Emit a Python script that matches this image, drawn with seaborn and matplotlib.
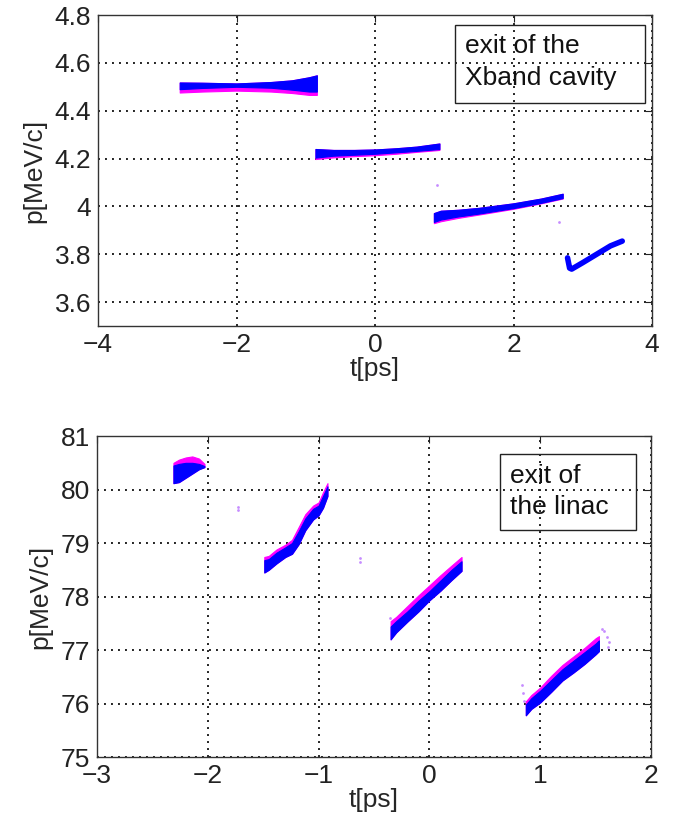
import matplotlib
matplotlib.use("Agg")
import matplotlib.pyplot as plt
import seaborn as sns
from matplotlib.patches import Rectangle

# ---- top panel: exit of the Xband cavity (magenta lies under the blue) ----
top_b1_t = [-2.82, -2.5, -2.0, -1.5, -1.2, -0.95, -0.84]
top_b1_lo = [4.490, 4.495, 4.500, 4.496, 4.488, 4.480, 4.480]
top_b1_hi = [4.518, 4.517, 4.514, 4.520, 4.527, 4.540, 4.548]
top_b1_mag = [4.476, 4.480, 4.484, 4.480, 4.474, 4.466, 4.466]

top_b2_t = [-0.86, -0.6, -0.3, 0.0, 0.3, 0.6, 0.93]
top_b2_lo = [4.204, 4.212, 4.216, 4.220, 4.226, 4.232, 4.240]
top_b2_hi = [4.240, 4.236, 4.236, 4.238, 4.243, 4.250, 4.263]
top_b2_mag = [4.198, 4.205, 4.210, 4.214, 4.220, 4.228, 4.236]

top_b3_t = [0.85, 0.95, 1.2, 1.5, 2.0, 2.4, 2.71]
top_b3_lo = [3.935, 3.945, 3.958, 3.970, 3.993, 4.015, 4.035]
top_b3_hi = [3.972, 3.982, 3.986, 3.994, 4.013, 4.033, 4.053]
top_b3_mag = [3.930, 3.938, 3.952, 3.966, 3.990, 4.013, 4.033]

top_b4_t = [2.78, 2.81, 2.84, 3.0, 3.2, 3.4, 3.57]
top_b4_p = [3.785, 3.742, 3.738, 3.765, 3.800, 3.835, 3.855]

top_stray_t = [0.90, 2.65]
top_stray_p = [4.089, 3.935]

# ---- bottom panel: exit of the linac (magenta lies above the blue) ----
bot_b1_t = [-2.31, -2.26, -2.20, -2.14, -2.08, -2.03]
bot_b1_lo = [80.12, 80.14, 80.22, 80.30, 80.38, 80.42]
bot_b1_hi = [80.45, 80.48, 80.50, 80.50, 80.48, 80.44]
bot_b1_mag = [80.50, 80.56, 80.60, 80.62, 80.58, 80.48]

bot_b2_t = [-1.49, -1.45, -1.38, -1.30, -1.24, -1.18, -1.12, -1.05, -1.00, -0.96, -0.92]
bot_b2_lo = [78.45, 78.50, 78.62, 78.74, 78.80, 78.98, 79.24, 79.44, 79.52, 79.66, 79.88]
bot_b2_hi = [78.68, 78.70, 78.82, 78.92, 79.00, 79.22, 79.46, 79.64, 79.70, 79.88, 80.06]
bot_b2_mag = [78.74, 78.76, 78.88, 78.97, 79.06, 79.30, 79.54, 79.70, 79.76, 79.95, 80.12]

bot_b3_t = [-0.35, -0.30, -0.20, -0.10, 0.00, 0.10, 0.20, 0.29]
bot_b3_lo = [77.20, 77.33, 77.53, 77.72, 77.93, 78.11, 78.31, 78.48]
bot_b3_hi = [77.44, 77.54, 77.72, 77.92, 78.10, 78.30, 78.50, 78.66]
bot_b3_mag = [77.54, 77.62, 77.82, 78.02, 78.21, 78.40, 78.58, 78.74]

bot_b4_t = [0.87, 0.92, 1.0, 1.1, 1.2, 1.3, 1.4, 1.5, 1.53]
bot_b4_lo = [75.78, 75.90, 76.02, 76.22, 76.43, 76.58, 76.74, 76.92, 76.98]
bot_b4_hi = [75.98, 76.10, 76.24, 76.44, 76.64, 76.80, 76.96, 77.12, 77.18]
bot_b4_mag = [76.04, 76.16, 76.30, 76.52, 76.72, 76.88, 77.04, 77.22, 77.26]

bot_stray_t = [-1.73, -1.73, -0.63, -0.63, 0.84, 0.845, 0.85, -0.36, 1.56, 1.58, 1.60, 1.62, 1.61]
bot_stray_p = [79.67, 79.62, 78.72, 78.65, 76.35, 76.20, 76.05, 77.60, 77.40, 77.35, 77.25, 77.15, 77.05]

BLUE = "#0000ff"
MAG = "#ff00ff"
STRAY = "#a040ff"

sns.set_style("white")
plt.rcParams["font.family"] = ["Liberation Sans", "DejaVu Sans"]
plt.rcParams["font.size"] = 19


def draw_band(ax, t, lo, hi, mag, mag_above):
    if mag_above:
        ax.fill_between(t, lo, mag, color=MAG, lw=0.8, zorder=3)
    else:
        ax.fill_between(t, mag, hi, color=MAG, lw=0.8, zorder=3)
    ax.fill_between(t, lo, hi, color=BLUE, lw=0.8, zorder=4)


def style_axes(ax, xlim, ylim, xticks, yticks, ytlabels):
    ax.set_xlim(xlim)
    ax.set_ylim(ylim)
    ax.set_xticks(xticks)
    ax.set_yticks(yticks)
    ax.set_yticklabels(ytlabels)
    ax.tick_params(direction="in", length=5, width=0.8, top=True, right=True,
                   labelsize=19, pad=5, colors="#222222")
    ax.grid(True, color="#222222", linestyle=(0, (1, 2.6)), linewidth=1.4)
    for s in ax.spines.values():
        s.set_color("#333333")
        s.set_linewidth(1.0)
    ax.set_xlabel("t[ps]", fontsize=19, labelpad=0)
    ax.set_ylabel("p[MeV/c]", fontsize=19, labelpad=6)


def label_box(ax, x0, y0, x1, y1, text):
    ax.add_patch(Rectangle((x0, y0), x1 - x0, y1 - y0, transform=ax.transAxes,
                           fill=False, edgecolor="#222222", lw=1.0, zorder=6))
    ax.text(x0 + 0.018, y1 - 0.03, text, transform=ax.transAxes, va="top", ha="left",
            fontsize=19, linespacing=1.4, color="#111111", zorder=7)


fig = plt.figure(figsize=(6.74, 8.25), dpi=100)

# top panel
ax1 = fig.add_axes([0.1454, 0.6048, 0.822, 0.377])
draw_band(ax1, top_b1_t, top_b1_lo, top_b1_hi, top_b1_mag, False)
draw_band(ax1, top_b2_t, top_b2_lo, top_b2_hi, top_b2_mag, False)
draw_band(ax1, top_b3_t, top_b3_lo, top_b3_hi, top_b3_mag, False)
sns.lineplot(x=top_b4_t, y=top_b4_p, sort=False, color=BLUE, linewidth=4,
             ax=ax1, zorder=4)
sns.scatterplot(x=top_stray_t, y=top_stray_p, color=STRAY, s=4, linewidth=0,
                alpha=0.6, ax=ax1, zorder=4)
style_axes(ax1, (-4, 4), (3.5, 4.8), [-4, -2, 0, 2, 4],
           [3.6, 3.8, 4.0, 4.2, 4.4, 4.6, 4.8],
           ["3.6", "3.8", "4", "4.2", "4.4", "4.6", "4.8"])
label_box(ax1, 0.644, 0.717, 0.987, 0.968, "exit of the\nXband cavity")

# bottom panel
ax2 = fig.add_axes([0.1439, 0.0824, 0.822, 0.389])
draw_band(ax2, bot_b1_t, bot_b1_lo, bot_b1_hi, bot_b1_mag, True)
draw_band(ax2, bot_b2_t, bot_b2_lo, bot_b2_hi, bot_b2_mag, True)
draw_band(ax2, bot_b3_t, bot_b3_lo, bot_b3_hi, bot_b3_mag, True)
draw_band(ax2, bot_b4_t, bot_b4_lo, bot_b4_hi, bot_b4_mag, True)
sns.scatterplot(x=bot_stray_t, y=bot_stray_p, color=STRAY, s=4, linewidth=0,
                alpha=0.6, ax=ax2, zorder=4)
style_axes(ax2, (-3, 2), (75, 81), [-3, -2, -1, 0, 1, 2],
           [75, 76, 77, 78, 79, 80, 81],
           ["75", "76", "77", "78", "79", "80", "81"])
label_box(ax2, 0.727, 0.707, 0.973, 0.944, "exit of\nthe linac")

fig.savefig("out.png", dpi=100)
